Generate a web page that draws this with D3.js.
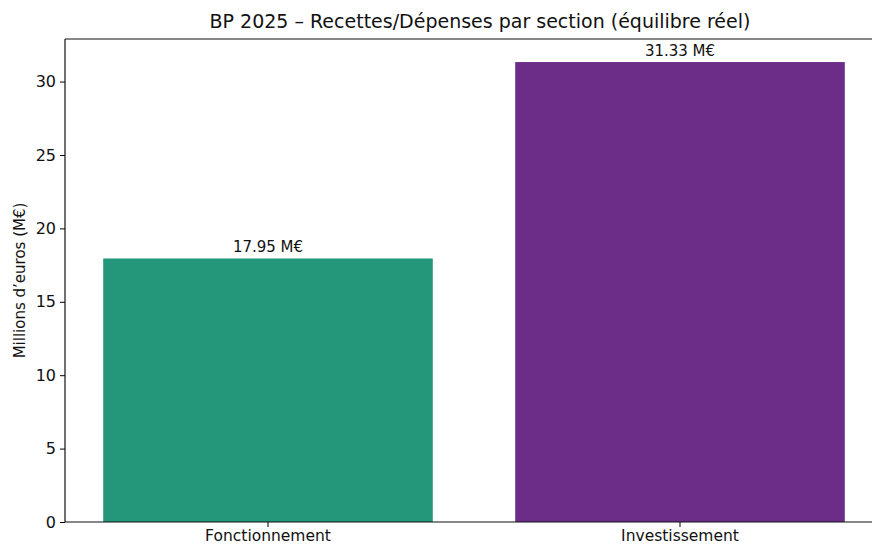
<!DOCTYPE html>
<html lang="fr">
<head>
<meta charset="UTF-8">
<title>BP 2025</title>
<script src="https://cdn.jsdelivr.net/npm/d3@7"></script>
<style>
  body { margin: 0; background: #fff; }
  text { font-family: "DejaVu Sans", sans-serif; fill: #111; }
</style>
</head>
<body>
<script>
// data
var sections = ["Fonctionnement", "Investissement"];
var montants = [17.95, 31.33];
var couleurs = ["#24977a", "#6c2d88"];
var yTicks = [0, 5, 10, 15, 20, 25, 30];

var width = 872, height = 547;
var margin = { top: 39, left: 65, bottom: 25 };
var plotRight = 886; // axes box goes past the picture edge

var svg = d3.select("body").append("svg")
    .attr("width", width)
    .attr("height", height);

var x = d3.scaleBand()
    .domain(sections)
    .range([margin.left - 3, plotRight])
    .paddingInner(0.2)
    .paddingOuter(0.1);

var y = d3.scaleLinear()
    .domain([0, 32.9])
    .range([height - margin.bottom, margin.top]);

// bars
svg.append("g")
    .selectAll("rect")
    .data(montants)
    .enter()
    .append("rect")
    .attr("x", function (d, i) { return x(sections[i]); })
    .attr("y", function (d) { return y(d); })
    .attr("width", x.bandwidth())
    .attr("height", function (d) { return y(0) - y(d); })
    .attr("fill", function (d, i) { return couleurs[i]; });

// value labels
svg.append("g")
    .selectAll("text")
    .data(montants)
    .enter()
    .append("text")
    .attr("x", function (d, i) { return x(sections[i]) + x.bandwidth() / 2; })
    .attr("y", function (d) { return y(d) - 6; })
    .attr("text-anchor", "middle")
    .style("font-size", "15px")
    .text(function (d) { return d.toFixed(2) + " M€"; });

// axes
var yAxis = svg.append("g")
    .attr("transform", "translate(" + margin.left + ",0)")
    .call(d3.axisLeft(y).tickValues(yTicks).tickSize(5).tickPadding(4));
yAxis.select(".domain").remove();
yAxis.selectAll("text").style("font-size", "16px");

var xAxis = svg.append("g")
    .attr("transform", "translate(0," + y(0) + ")")
    .call(d3.axisBottom(x).tickSize(5).tickPadding(3));
xAxis.select(".domain").remove();
xAxis.selectAll("text").style("font-size", "15.5px");

// axes frame (left, top, bottom)
var frame = svg.append("g").attr("stroke", "#111").attr("stroke-width", 1.2).attr("fill", "none");
frame.append("line").attr("x1", margin.left).attr("x2", margin.left).attr("y1", y.range()[1]).attr("y2", y(0));
frame.append("line").attr("x1", margin.left).attr("x2", width).attr("y1", y.range()[1]).attr("y2", y.range()[1]);
frame.append("line").attr("x1", margin.left).attr("x2", width).attr("y1", y(0)).attr("y2", y(0));

// title
svg.append("text")
    .attr("x", 480)
    .attr("y", 28)
    .attr("text-anchor", "middle")
    .style("font-size", "19px")
    .text("BP 2025 – Recettes/Dépenses par section (équilibre réel)");

// y label
svg.append("text")
    .attr("transform", "translate(25," + ((y(0) + y.range()[1]) / 2) + ") rotate(-90)")
    .attr("text-anchor", "middle")
    .style("font-size", "15px")
    .text("Millions d’euros (M€)");
</script>
</body>
</html>
